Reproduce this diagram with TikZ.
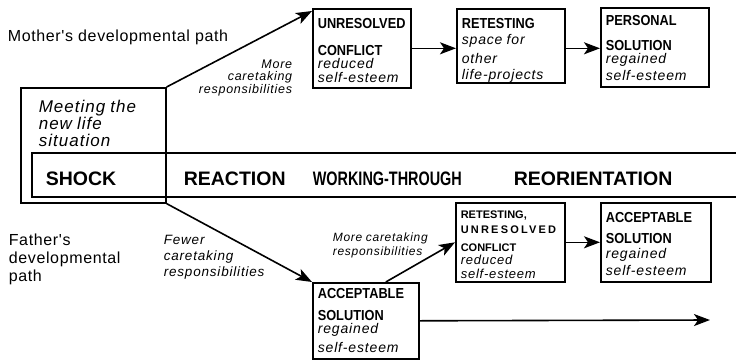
\documentclass[tikz,border=0pt]{standalone}
\usepackage{fontspec}
\usetikzlibrary{arrows.meta}
\setmainfont{Liberation Sans}
\newfontfamily\itfont[LetterSpace=6]{Liberation Sans}
\newfontfamily\pathfont[LetterSpace=4]{Liberation Sans}
\newcommand{\capword}[1]{{\fontsize{14.5}{14}\selectfont\bfseries\scalebox{0.88}[1]{#1}}}
\newcommand{\smallcap}[1]{{\fontsize{11}{14}\selectfont\bfseries #1}}
\newcommand{\itword}[1]{{\itfont\itshape\mbox{#1}}}
\newcommand{\gap}{\hspace{0.3em}}
\hyphenpenalty=10000
\exhyphenpenalty=10000

\begin{document}
\begin{tikzpicture}[
		x=1pt,y=-1pt,
		line width=1.6pt,
		box/.style={draw,anchor=north west,align=left,inner xsep=5pt,inner ysep=0pt,font=\fontsize{14}{14}\selectfont},
		arr/.style={-{Stealth[length=16pt,width=12pt,inset=4pt]}},
		phase/.style={anchor=base west,inner sep=0pt,font=\fontsize{19.5}{20}\selectfont\bfseries},
		note/.style={inner sep=0pt,text width=120pt,font=\itfont\itshape}
		]
		\useasboundingbox (0,0) rectangle (736,359);
		\node[anchor=base west,inner sep=0pt,font=\pathfont\fontsize{16}{18}\selectfont] (mother) at (7,41) {Mother's developmental path};
		\node[box,font=\fontsize{17}{17}\selectfont,inner xsep=18pt,text width=109pt,text height=25pt,text depth=90pt] (meet) at (20,87) {\itword{Meeting\gap the}\\\itword{new\gap life}\\\itword{situation}};
		\draw (736,153) -| (32,197) -- (736,197);
		\node[phase] (shock) at (45,185) {SHOCK};
		\node[phase] (reaction) at (183,185) {REACTION};
		\node[phase] (working) at (312,185) {\scalebox{0.74}[1]{WORKING-THROUGH}};
		\node[phase] (reorient) at (513,185) {REORIENTATION};
		\node[box,text width=88pt,text height=20pt,text depth=59pt] (unres) at (312,8) {\capword{UNRESOLVED}\\[13pt]\capword{CONFLICT}\\[-1pt]\itword{reduced}\\\itword{self-esteem}};
		\node[box,text width=98pt,text height=20pt,text depth=54pt] (retest) at (456,8) {\capword{RETESTING}\\[2pt]\itword{space\gap for}\\[5pt]\itword{other}\\[2pt]\itword{life-projects}};
		\node[box,text width=98pt,text height=18pt,text depth=61pt] (pers) at (600,7) {\capword{PERSONAL}\\[11pt]\capword{SOLUTION}\\[-1pt]\itword{regained}\\[3pt]\itword{self-esteem}};
		\node[note,anchor=base east,align=right,text width=100pt,font=\fontsize{12.5}{12.5}\selectfont] (more) at (293,68) {\itword{More}\\\itword{caretaking}\\\itword{responsibilities}};
		\draw[arr] (meet.north east) -- ([yshift=-3pt]unres.north west);
		\draw[arr] (unres.east) -- (unres.east -| retest.west);
		\draw[arr] (unres.east -| retest.east) -- (unres.east -| pers.west);
		\node[anchor=base west,inner sep=0pt,text width=130pt,align=left,font=\pathfont\fontsize{16}{18}\selectfont] (father) at (8,245) {Father's\\developmental\\path};
		\node[note,anchor=base west,align=left,font=\fontsize{13.5}{16}\selectfont] (fewer) at (163,244) {\itword{Fewer}\\\itword{caretaking}\\\itword{responsibilities}};
		\node[box,text width=96pt,text height=16pt,text depth=60pt] (acc) at (312,282) {\capword{ACCEPTABLE}\\[8pt]\capword{SOLUTION}\\[-1pt]\itword{regained}\\[5pt]\itword{self-esteem}};
		\node[box,font=\fontsize{13}{14}\selectfont,text width=99pt,text height=16pt,text depth=63pt] (ret) at (455,202) {\smallcap{RETESTING,}\\[1pt]\smallcap{\addfontfeature{LetterSpace=20}UNRESOLVED}\\[4pt]\smallcap{CONFLICT}\\[-1pt]\itword{reduced}\\[0pt]\itword{self-esteem}};
		\node[box,text width=100pt,text height=20pt,text depth=59pt] (acc2) at (600,202) {\capword{ACCEPTABLE}\\[7pt]\capword{SOLUTION}\\[1pt]\itword{regained}\\[3pt]\itword{self-esteem}};
		\node[note,anchor=base west,align=left,text width=110pt,font=\fontsize{12}{14}\selectfont] (moreb) at (332,241) {\itword{More\gap caretaking}\\\itword{responsibilities}};
		\coordinate (fathend) at (710,320);
		\draw[arr] (meet.south east) -- (acc.north west);
		\draw[arr] ([xshift=20pt]acc.north) -- (ret.west);
		\draw[arr] (ret.east) -- (ret.east -| acc2.west);
		\draw[arr] (acc.east) -- (fathend);
\end{tikzpicture}
\end{document}
